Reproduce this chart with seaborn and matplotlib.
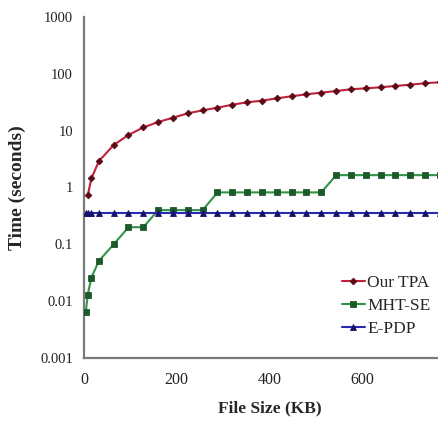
import numpy as np
import pandas as pd
import matplotlib
matplotlib.use("Agg")
import matplotlib.pyplot as plt
import seaborn as sns

# ---- data ----
tpa_x = [8, 16, 32, 64, 96, 128, 160, 192, 224, 256, 288, 320, 352, 384, 416,
         448, 480, 512, 544, 576, 608, 640, 672, 704, 736, 768]
tpa_y = [0.73, 1.44, 2.9, 5.6, 8.4, 11.4, 14.2, 16.9, 20.2, 22.8, 25.4, 28.6,
         31.6, 33.7, 37.1, 40.3, 43.7, 46.6, 49.9, 53.5, 55.7, 58.0, 61.2,
         64.5, 68.3, 71.1]

mht_x = [4, 8, 16, 32, 64, 96, 128, 160, 192, 224, 256, 288, 320, 352, 384,
         416, 448, 480, 512, 544, 576, 608, 640, 672, 704, 736, 768]
mht_y = [0.0065, 0.013, 0.026, 0.051, 0.10, 0.20, 0.20, 0.40, 0.40, 0.40,
         0.40, 0.82, 0.82, 0.82, 0.82, 0.82, 0.82, 0.82, 0.82, 1.65, 1.65,
         1.65, 1.65, 1.65, 1.65, 1.65, 1.65]

pdp_x = mht_x
pdp_y = [0.36] * len(pdp_x)

series_names = ["Our TPA", "MHT-SE", "E-PDP"]
x_ticks = [0, 200, 400, 600]
y_ticks = [0.001, 0.01, 0.1, 1, 10, 100, 1000]
y_tick_labels = ["0.001", "0.01", "0.1", "1", "10", "100", "1000"]

sns.set_style("white")
plt.rcParams["font.family"] = ["Liberation Serif", "DejaVu Serif"]

fig = plt.figure(figsize=(4.38, 4.25), dpi=100)
ax = fig.add_axes([84 / 438, 1 - 358 / 425, 370.8 / 438, (358 - 17) / 425])

styles = [
    dict(color="#c0203c", marker="D", markersize=3.4, mfc="#5a0a14", mec="#5a0a14"),
    dict(color="#32934a", marker="s", markersize=4.4, mfc="#1d5a2a", mec="#1d5a2a"),
    dict(color="#2a2ab0", marker="^", markersize=3.8, mfc="#14146a", mec="#14146a"),
]
data = [(tpa_x, tpa_y), (mht_x, mht_y), (pdp_x, pdp_y)]
for (xs, ys), name, st in zip(data, series_names, styles):
    sns.lineplot(x=xs, y=ys, ax=ax, label=name, linewidth=1.5,
                 color=st["color"], marker=st["marker"], markersize=st["markersize"],
                 markerfacecolor=st["mfc"], markeredgecolor=st["mec"],
                 markeredgewidth=0.6, zorder=3)

ax.set_yscale("log")
ax.set_ylim(0.001, 1000)
ax.set_xlim(0, 800)
ax.set_xticks(x_ticks)
ax.set_xticklabels([str(v) for v in x_ticks])
ax.set_yticks(y_ticks)
ax.set_yticklabels(y_tick_labels)
ax.minorticks_off()
ax.yaxis.set_minor_locator(matplotlib.ticker.NullLocator())

for s in ["top", "right"]:
    ax.spines[s].set_visible(False)
for s in ["left", "bottom"]:
    ax.spines[s].set_color("#7a7a7a")
    ax.spines[s].set_linewidth(1.6)
ax.tick_params(axis="both", direction="inout", length=4, width=1.2,
               color="#555555", labelsize=10.5, labelcolor="#222222", pad=6)
ax.tick_params(axis="x", pad=8, labelsize=11.5)

ax.set_xlabel("File Size (KB)", fontsize=12.5, fontweight="bold", labelpad=9)
ax.set_ylabel("Time (seconds)", fontsize=14, fontweight="bold", labelpad=10)

leg = ax.legend(loc="upper left", bbox_to_anchor=(342 / 438, 1 - 275 / 425),
                bbox_transform=fig.transFigure, frameon=False, fontsize=12.5,
                handlelength=1.3, handletextpad=0.15, labelspacing=0.38,
                borderpad=0, borderaxespad=0)

fig.savefig("out.png", dpi=100, facecolor="white")
